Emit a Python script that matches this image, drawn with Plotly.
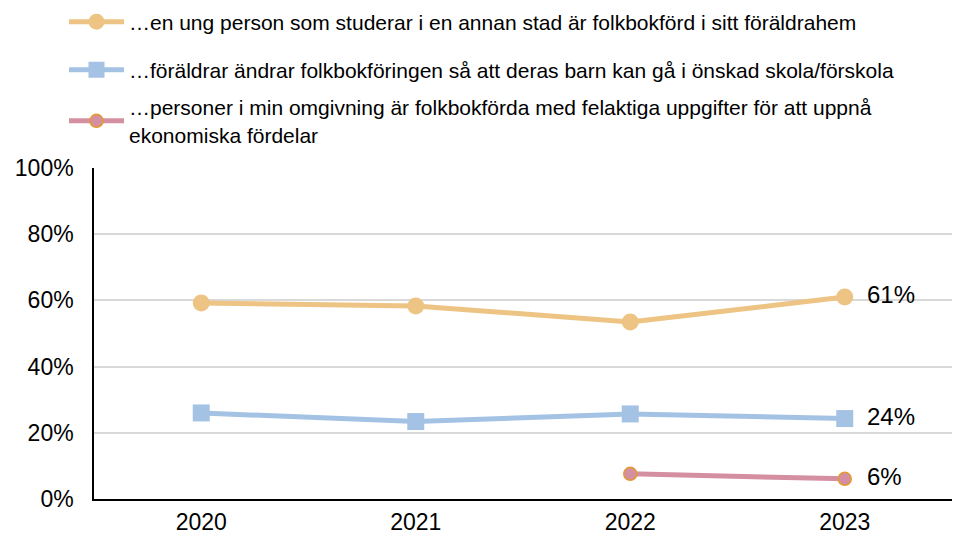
import plotly.graph_objects as go

years = ["2020", "2021", "2022", "2023"]
series_names = [
    "…en ung person som studerar i en annan stad är folkbokförd i sitt föräldrahem",
    "…föräldrar ändrar folkbokföringen så att deras barn kan gå i önskad skola/förskola",
    "…personer i min omgivning är folkbokförda med felaktiga uppgifter för att uppnå<br>ekonomiska fördelar",
]
student = [59.2, 58.3, 53.5, 61.0]
parents = [26.0, 23.4, 25.7, 24.3]
omgivning = [None, None, 7.6, 6.1]
y_ticks = [0, 20, 40, 60, 80, 100]
y_ticklabels = ["0%", "20%", "40%", "60%", "80%", "100%"]

# page body has an 8px margin; layout values below compensate for it
OFF = 8
W, H = 970, 536

series = [
    dict(vals=student, legend="legend", line="#EDC483",
         marker=dict(symbol="circle", size=17, color="#EDC483")),
    dict(vals=parents, legend="legend2", line="#A4C2E4",
         marker=dict(symbol="square", size=17, color="#A4C2E4")),
    dict(vals=omgivning, legend="legend3", line="#D48FA0",
         marker=dict(symbol="circle", size=13, color="#D48FA0",
                     line=dict(color="#E39B2E", width=1.5))),
]

fig = go.Figure()
for name, s in zip(series_names, series):
    fig.add_trace(go.Scatter(
        x=years, y=s["vals"], name=name, mode="lines+markers",
        legend=s["legend"],
        line=dict(color=s["line"], width=5),
        marker=s["marker"],
    ))
for s in series:
    last = s["vals"][-1]
    fig.add_trace(go.Scatter(
        x=[years[-1]], y=[last], mode="markers+text", showlegend=False,
        marker=dict(size=34, opacity=0),
        text=[f"{round(last)}%"], textposition="middle right",
        textfont=dict(size=24, color="#000000"), hoverinfo="skip",
    ))

legend_common = dict(
    orientation="v", xref="container", xanchor="left",
    yref="container", yanchor="middle",
    font=dict(size=21), itemwidth=55, bgcolor="rgba(0,0,0,0)",
    x=(64 - OFF) / W,
)
fig.update_layout(
    width=W, height=H,
    margin=dict(l=94 - OFF, r=W - (952 - OFF), t=168 - OFF, b=H - (499 - OFF),
                autoexpand=False),
    paper_bgcolor="white", plot_bgcolor="white",
    font=dict(family="Liberation Sans, Arial, sans-serif", size=21, color="#000000"),
    showlegend=True,
    legend=dict(legend_common, y=1 - (22 - OFF) / H),
    legend2=dict(legend_common, y=1 - (70 - OFF) / H),
    legend3=dict(legend_common, y=1 - (121 - OFF) / H),
)
fig.update_xaxes(
    type="category", range=[-0.5, 3.5], automargin=False,
    showline=True, linecolor="#000000", linewidth=1.5,
    showgrid=False, ticks="", tickfont=dict(size=23), ticklabelstandoff=2,
)
fig.update_yaxes(
    range=[0, 100], tickvals=y_ticks, ticktext=y_ticklabels, automargin=False,
    showline=True, linecolor="#000000", linewidth=1.5,
    showgrid=True, gridcolor="#D9D9D9", gridwidth=1.5,
    zeroline=False, ticks="", tickfont=dict(size=23), ticklabelstandoff=14,
)

fig.write_html("out.html", config={"displayModeBar": False})
